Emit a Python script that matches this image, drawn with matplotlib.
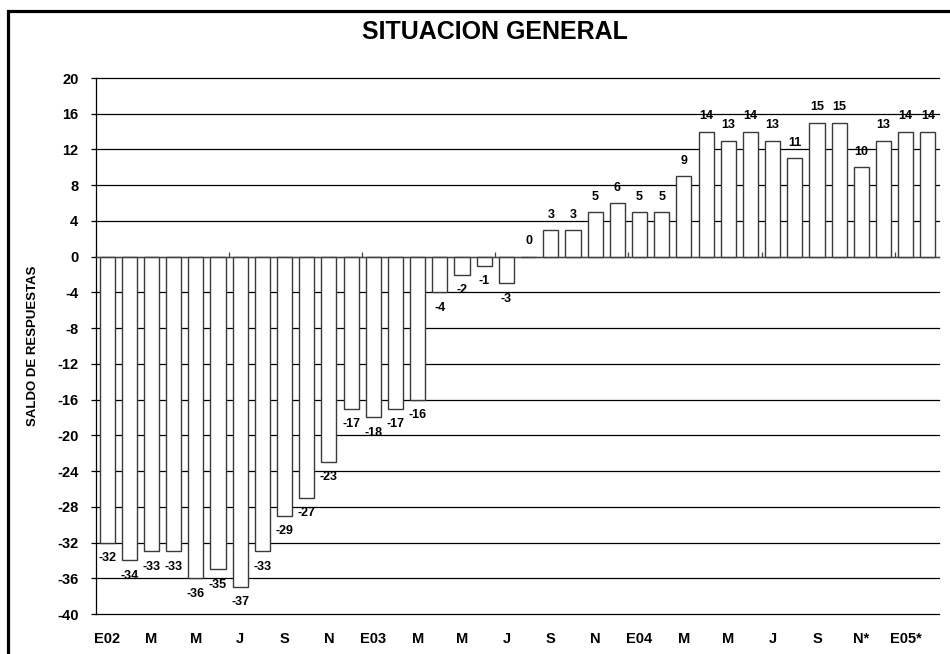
import matplotlib
matplotlib.use("Agg")
import matplotlib.pyplot as plt
from matplotlib.patches import Rectangle
from matplotlib.ticker import MultipleLocator, NullFormatter
import numpy as np

plt.rcParams['font.family'] = ['Liberation Sans', 'DejaVu Sans']
plt.rcParams['font.weight'] = 'bold'

title = "SITUACION GENERAL"
ylabel = "SALDO DE RESPUESTAS"
values = [-32, -34, -33, -33, -36, -35, -37, -33, -29, -27, -23, -17,
          -18, -17, -16, -4, -2, -1, -3, 0, 3, 3, 5, 6,
          5, 5, 9, 14, 13, 14, 13, 11, 15, 15, 10, 13,
          14, 14]
tick_labels = ["E02", "M", "M", "J", "S", "N", "E03", "M", "M", "J", "S", "N",
               "E04", "M", "M", "J", "S", "N*", "E05*"]
yticks = list(range(-40, 21, 4))

W, H = 950, 654
fig = plt.figure(figsize=(W / 100, H / 100), dpi=100)
ax = fig.add_axes([96 / W, 1 - 614 / H, (939 - 96) / W, (614 - 78) / H])

x = np.arange(len(values))
ax.bar(x, values, width=0.68, color='white', edgecolor='#3a3a3a', linewidth=1.0, zorder=2)

ax.set_xlim(-0.5, len(values) - 0.5)
ax.set_ylim(-40, 20)
ax.set_axisbelow(True)
ax.yaxis.grid(True, color='black', linewidth=0.9)
ax.set_yticks(yticks)
ax.set_yticklabels([str(v) for v in yticks], fontsize=10.5, fontweight='bold')
ax.tick_params(axis='y', direction='out', length=3.6, width=0.9, pad=9)
for gl in ax.get_ygridlines():
    gl.set_clip_on(False)

for s in ['top', 'right']:
    ax.spines[s].set_visible(False)
ax.spines['left'].set_linewidth(0.9)
ax.spines['bottom'].set_position(('data', 0))
ax.spines['bottom'].set_color('#444444')
ax.spines['bottom'].set_linewidth(0.9)
ax.xaxis.set_major_locator(MultipleLocator(6, offset=-0.5))
ax.xaxis.set_major_formatter(NullFormatter())
ax.tick_params(axis='x', direction='in', length=3.6, width=0.9, color='#444444')

sec = ax.secondary_xaxis('bottom')
sec.set_xticks(x[::2])
sec.set_xticklabels(tick_labels, fontsize=10.5, fontweight='bold')
sec.tick_params(length=0, pad=13)
sec.spines['bottom'].set_visible(False)

for xi, v in zip(x, values):
    off = 11 if v >= 0 else -11
    ax.annotate(str(v), (xi, v), xytext=(0, off), textcoords='offset points',
                ha='center', va='center', fontsize=9, fontweight='bold', zorder=3)

ax.set_ylabel(ylabel, fontsize=9.5, fontweight='bold')
ax.yaxis.set_label_coords((39 - 96) / (939 - 96), 0.5)

fig.text(495 / W, 1 - 32 / H, title, ha='center', va='center', fontsize=18, fontweight='bold')

fig.patches.append(Rectangle((8 / W, -0.2), 1.5, 1.2 - 10.5 / H, transform=fig.transFigure,
                             fill=False, edgecolor='black', linewidth=2.3))

fig.savefig("out.png", dpi=100)
